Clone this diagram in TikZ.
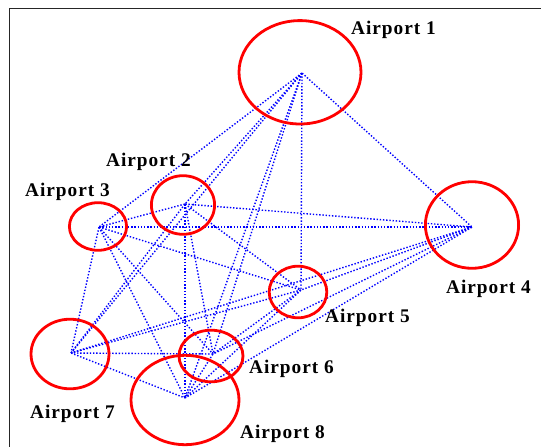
\documentclass[tikz,border=0pt]{standalone}
\usepackage{fontspec}
\setmainfont{Liberation Serif}
\newfontfamily\labelfont[LetterSpace=5]{Liberation Serif}
\usetikzlibrary{shapes.geometric}

\begin{document}
\begin{tikzpicture}[x=1pt,y=-1pt,
  hub/.style={inner sep=0pt, minimum size=0pt},
  zone/.style={draw=red, line width=2.8pt, ellipse, inner sep=0pt},
  link/.style={draw=blue, line width=1.4pt, dash pattern=on 1.4pt off 1.8pt},
  tag/.style={anchor=base west, inner sep=0pt,
    font=\labelfont\bfseries\fontsize{19.3}{19.3}\selectfont},
  frameline/.style={draw=black!85, line width=1.5pt}]

  % page extent
  \useasboundingbox (0,0) rectangle (541,447);

  % open frame (left and top sides)
  \draw[frameline] (9.3,460) -- (9.3,8.3) -- (560,8.3);

  % airport locations
  \node[hub] (p1) at (302,73) {};
  \node[hub] (p2) at (185,204) {};
  \node[hub] (p3) at (99,227) {};
  \node[hub] (p4) at (472,227) {};
  \node[hub] (p5) at (301,290) {};
  \node[hub] (p6) at (213,354) {};
  \node[hub] (p7) at (71,353) {};
  \node[hub] (p8) at (185,398) {};

  % every pair of airports is linked
  \foreach \a/\b in {1/2,1/3,1/4,1/5,1/6,1/7,1/8,
                     2/3,2/4,2/5,2/6,2/7,2/8,
                     3/4,3/5,3/6,3/7,3/8,
                     4/5,4/6,4/7,4/8,
                     5/6,5/7,5/8,
                     6/7,6/8,
                     7/8}
    \draw[link] (p\a) -- (p\b);

  % service zones
  \node[zone, minimum width=122pt, minimum height=103.4pt] (z1) at (300,72.3) {};
  \node[zone, minimum width=63.2pt, minimum height=58.6pt] (z2) at (183,205) {};
  \node[zone, minimum width=57.2pt, minimum height=47.6pt] (z3) at (98,226.5) {};
  \node[zone, minimum width=93.2pt, minimum height=86.6pt] (z4) at (472,225) {};
  \node[zone, minimum width=57.6pt, minimum height=51.6pt] (z5) at (298,292) {};
  \node[zone, minimum width=64pt, minimum height=51.6pt] (z6) at (211,356) {};
  \node[zone, minimum width=78pt, minimum height=69.6pt] (z7) at (70,354) {};
  \node[zone, minimum width=108pt, minimum height=89.4pt] (z8) at (185,400) {};

  % names
  \node[tag] (l1) at (351,34.3) {Airport 1};
  \node[tag] (l2) at (106,166) {Airport 2};
  \node[tag] (l3) at (25,196) {Airport 3};
  \node[tag] (l4) at (446,293) {Airport 4};
  \node[tag] (l5) at (325,322) {Airport 5};
  \node[tag] (l6) at (249,373) {Airport 6};
  \node[tag] (l7) at (30,418) {Airport 7};
  \node[tag] (l8) at (240,438) {Airport 8};
\end{tikzpicture}
\end{document}
